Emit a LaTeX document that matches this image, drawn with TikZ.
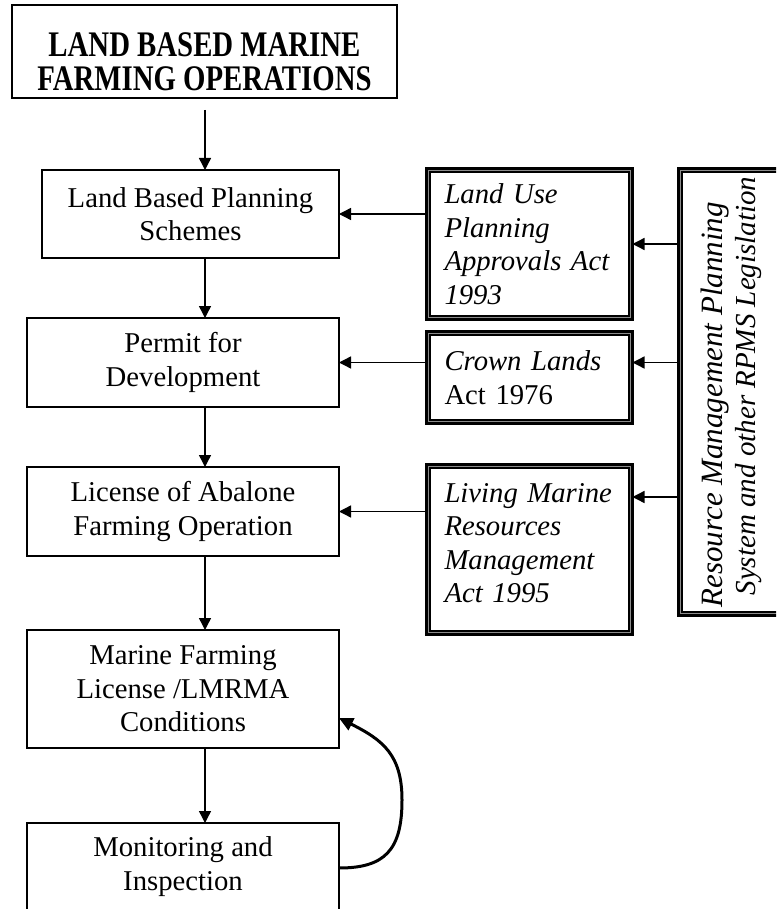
\documentclass[tikz,border=0pt]{standalone}
\usepackage{fontspec}
\setmainfont{Liberation Serif}
\usepackage{graphicx}
\usetikzlibrary{arrows.meta}

\begin{document}
\begin{tikzpicture}[x=1pt,y=-1pt,
  txt/.style={font=\fontsize{28.7}{33.5}\selectfont},
  flowbox/.style={txt, draw, line width=1.2pt, inner sep=0pt, outer sep=0pt,
    align=center, minimum width=312pt},
  lawbox/.style={txt, draw, line width=3pt, inner sep=0pt, outer sep=0pt,
    align=left, text width=170pt, minimum width=206pt},
  innerline/.style={line width=1.4pt},
  gapline/.style={line width=0.8pt, black!45},
  arr/.style={line width=1.4pt, -{Triangle[length=12pt,width=12pt]}},
  loop/.style={line width=3pt, -{Triangle[length=14pt,width=13pt]}},
]
\path[use as bounding box] (0,0) rectangle (776,909);
\clip (0,0) rectangle (776,909);

% main flow
\node[draw, line width=1.6pt, inner sep=0pt, outer sep=0pt,
  font=\fontsize{36}{33}\selectfont\bfseries,
  text height=40pt, text depth=29pt,
  minimum width=385pt, minimum height=93pt] (top) at (204.5,51.5)
  {\scalebox{0.8}[1]{\begin{tabular}[t]{@{}c@{}}LAND BASED MARINE\\
   FARMING OPERATIONS\end{tabular}}};
\node[flowbox, minimum width=297pt, minimum height=88pt] (lbps) at (190.5,214)
  {Land Based Planning\\Schemes};
\node[flowbox, minimum height=89pt] (permit) at (183,362.5)
  {Permit for\\Development};
\node[flowbox, minimum height=89pt] (lic) at (183,511.5)
  {License of Abalone\\Farming Operation};
\node[flowbox, minimum height=118pt] (mfl) at (183,689)
  {Marine Farming\\License /LMRMA\\Conditions};
\node[flowbox, minimum height=87.5pt] (mon) at (183,866.75)
  {Monitoring and\\Inspection};

% legislation
\node[lawbox, minimum height=151pt] (lupa) at (529.5,244)
  {\itshape Land Use\\Planning\\Approvals Act\\1993};
\node[lawbox, minimum height=92pt] (cla) at (529.5,377.5)
  {\textit{Crown Lands}\\Act 1976};
\node[lawbox, minimum height=170pt, text depth=113.5pt] (lmrma) at (529.5,549.5)
  {\itshape Living Marine\\Resources\\Management\\Act 1995};
\node[txt, draw, line width=3pt, inner sep=0pt, outer sep=0pt,
  minimum width=108pt, minimum height=447pt] (rpms) at (732.5,392)
  {\rotatebox{90}{\itshape\begin{tabular}{@{}l@{}}%
   {\fontsize{31}{33.5}\selectfont Resource Management Planning}\\
   \hspace*{12pt}{\fontsize{29}{33.5}\selectfont System and other RPMS Legislation}%
   \end{tabular}}};

% thin inner rule of the double borders
\foreach \n in {lupa,cla,lmrma,rpms}{
  \draw[gapline] ([xshift=2.3pt,yshift=-2.3pt]\n.north west)
    rectangle ([xshift=-2.3pt,yshift=2.3pt]\n.south east);
  \draw[innerline] ([xshift=3.6pt,yshift=-3.6pt]\n.north west)
    rectangle ([xshift=-3.6pt,yshift=3.6pt]\n.south east);
}

% vertical spine
\coordinate (spine) at (205,0);
\draw[arr] ([yshift=-12pt]top.south -| spine) -- (spine |- lbps.north);
\draw[arr] (spine |- lbps.south) -- (spine |- permit.north);
\draw[arr] (spine |- permit.south) -- (spine |- lic.north);
\draw[arr] (spine |- lic.south) -- (spine |- mfl.north);
\draw[arr] (spine |- mfl.south) -- (spine |- mon.north);

% legislation feeding the flow
\draw[arr] (lupa.west |- lbps.east) -- (lbps.east);
\draw[arr] (cla.west |- permit.east) -- (permit.east);
\draw[arr] (lmrma.west |- lic.east) -- (lic.east);

% RPMS feeding the acts
\coordinate (lmin) at ([yshift=52.5pt]lmrma.east);
\draw[arr] (rpms.west |- lupa.east) -- (lupa.east);
\draw[arr] (rpms.west |- permit.east) -- (cla.east |- permit.east);
\draw[arr] (rpms.west |- lmin) -- (lmin);

% feedback loop
\coordinate (loopout) at ([yshift=-45pt]mon.north east);
\coordinate (loopin) at ([yshift=30pt]mfl.south east);
\draw[loop] (loopout) .. controls +(46,0) and +(0,50) .. (402,800)
  .. controls +(0,-45) and +(44,22) .. (loopin);
\end{tikzpicture}
\end{document}
